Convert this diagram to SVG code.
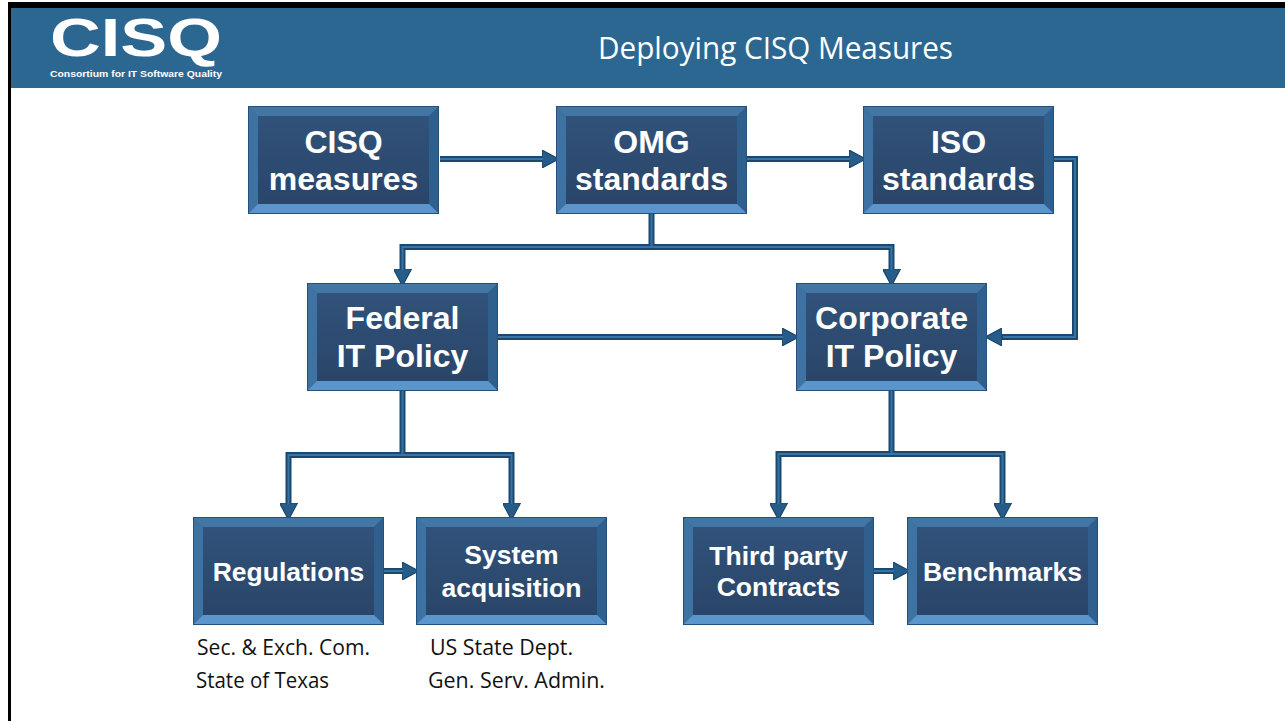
<svg xmlns="http://www.w3.org/2000/svg" xmlns:xlink="http://www.w3.org/1999/xlink" width="1285" height="721" viewBox="0 0 1285 721">
<style>
.bt{font-family:"Liberation Sans",Arial,sans-serif;font-weight:bold;fill:#ffffff;text-anchor:middle}
.big{font-size:32px}
.sm{font-size:26.5px}
.cap{font-family:"Open Sans","Noto Sans",sans-serif;font-size:21px;fill:#111111}
.co{fill:none;stroke:#1c4870;stroke-width:6;stroke-linejoin:miter}
.ci{fill:none;stroke:#3674a6;stroke-width:2}
.arr{marker-end:url(#ah)}
</style>
<defs>
<linearGradient id="face" x1="0" y1="0" x2="0" y2="1">
<stop offset="0" stop-color="#31527b"/>
<stop offset="1" stop-color="#2a4568"/>
</linearGradient>
<marker id="ah" markerUnits="userSpaceOnUse" markerWidth="18" markerHeight="18" refX="0" refY="8" orient="auto" viewBox="0 0 16 16">
<path d="M0,0 L15,8 L0,16 Z" fill="#255c8a" stroke="#1a4466" stroke-width="1"/>
</marker>
<g id="box">
<rect x="0" y="0" width="191" height="108" fill="#3a6c9a"/>
<polygon points="0,0 191,0 181,10 10,10" fill="#4276a4"/>
<polygon points="0,0 10,10 10,98 0,108" fill="#3e72a2"/>
<polygon points="191,0 191,108 181,98 181,10" fill="#2e5f8d"/>
<polygon points="0,108 10,98 181,98 191,108" fill="#5a96cc"/>
<rect x="10" y="10" width="171" height="88" fill="url(#face)"/>
<rect x="0.5" y="0.5" width="190" height="107" fill="none" stroke="#24507a" stroke-width="1"/>
</g>
</defs>
<rect x="0" y="0" width="1285" height="721" fill="#ffffff"/>
<g id="frame">
<rect x="8" y="2" width="1277" height="6" fill="#000000"/>
<rect x="8" y="2" width="3" height="719" fill="#000000"/>
<rect x="11" y="8" width="1274" height="80" fill="#2c6792"/>
<text x="50" y="56" font-family="'Liberation Sans',Arial,sans-serif" font-weight="bold" font-size="54" fill="#ffffff" textLength="172" lengthAdjust="spacingAndGlyphs">CISQ</text>
<text x="50" y="77" font-family="'Liberation Sans',Arial,sans-serif" font-weight="bold" font-size="9.5" fill="#ffffff" textLength="172" lengthAdjust="spacingAndGlyphs">Consortium for IT Software Quality</text>
<text x="775.5" y="59" font-family="'Open Sans','Noto Sans',sans-serif" font-size="31" fill="#ffffff" text-anchor="middle" textLength="355" lengthAdjust="spacingAndGlyphs">Deploying CISQ Measures</text>
</g>
<g id="connectors">
<path class="co arr" d="M440,159 H542"/>
<path class="co arr" d="M747,159 H849"/>
<path class="co arr" d="M1054,159 H1075 V337 H1002"/>
<path class="co arr" d="M651.5,214 V247 H402.5 V269"/>
<path class="co arr" d="M651.5,247 H891.5 V269"/>
<path class="co arr" d="M498,337 H782"/>
<path class="co arr" d="M402.5,391 V455 H288.5 V503"/>
<path class="co arr" d="M402.5,455 H511.5 V503"/>
<path class="co arr" d="M384,571 H402"/>
<path class="co arr" d="M891.5,391 V454 H778.5 V503"/>
<path class="co arr" d="M891.5,454 H1002.5 V503"/>
<path class="co arr" d="M874,571 H893"/>
<path class="ci" d="M440,159 H543"/>
<path class="ci" d="M747,159 H850"/>
<path class="ci" d="M1054,159 H1075 V337 H1003"/>
<path class="ci" d="M651.5,214 V247 H402.5 V270"/>
<path class="ci" d="M651.5,247 H891.5 V270"/>
<path class="ci" d="M498,337 H783"/>
<path class="ci" d="M402.5,391 V455 H288.5 V504"/>
<path class="ci" d="M402.5,455 H511.5 V504"/>
<path class="ci" d="M384,571 H403"/>
<path class="ci" d="M891.5,391 V454 H778.5 V504"/>
<path class="ci" d="M891.5,454 H1002.5 V504"/>
<path class="ci" d="M874,571 H894"/>
</g>
<g id="n-cisq">
<use xlink:href="#box" href="#box" x="248" y="106"/>
<text class="bt big" x="343.5" y="153">CISQ</text>
<text class="bt big" x="343.5" y="190">measures</text>
</g>
<g id="n-omg">
<use xlink:href="#box" href="#box" x="556" y="106"/>
<text class="bt big" x="651.5" y="153">OMG</text>
<text class="bt big" x="651.5" y="190">standards</text>
</g>
<g id="n-iso">
<use xlink:href="#box" href="#box" x="863" y="106"/>
<text class="bt big" x="958.5" y="153">ISO</text>
<text class="bt big" x="958.5" y="190">standards</text>
</g>
<g id="n-federal">
<use xlink:href="#box" href="#box" x="307" y="283"/>
<text class="bt big" x="402.5" y="329">Federal</text>
<text class="bt big" x="402.5" y="367">IT Policy</text>
</g>
<g id="n-corporate">
<use xlink:href="#box" href="#box" x="796" y="283"/>
<text class="bt big" x="891.5" y="329">Corporate</text>
<text class="bt big" x="891.5" y="367">IT Policy</text>
</g>
<g id="n-regulations">
<use xlink:href="#box" href="#box" x="193" y="517"/>
<text class="bt sm" x="288.5" y="581">Regulations</text>
</g>
<g id="n-system">
<use xlink:href="#box" href="#box" x="416" y="517"/>
<text class="bt sm" x="511.5" y="564">System</text>
<text class="bt sm" x="511.5" y="597">acquisition</text>
</g>
<g id="n-thirdparty">
<use xlink:href="#box" href="#box" x="683" y="517"/>
<text class="bt sm" x="778.5" y="565">Third party</text>
<text class="bt sm" x="778.5" y="596">Contracts</text>
</g>
<g id="n-benchmarks">
<use xlink:href="#box" href="#box" x="907" y="517"/>
<text class="bt sm" x="1002.5" y="581">Benchmarks</text>
</g>
<g id="captions">
<text class="cap" x="197" y="655" textLength="173" lengthAdjust="spacingAndGlyphs">Sec. &amp; Exch. Com.</text>
<text class="cap" x="196" y="688" textLength="133" lengthAdjust="spacingAndGlyphs">State of Texas</text>
<text class="cap" x="430" y="655" textLength="143" lengthAdjust="spacingAndGlyphs">US State Dept.</text>
<text class="cap" x="428" y="688" textLength="177" lengthAdjust="spacingAndGlyphs">Gen. Serv. Admin.</text>
</g>
</svg>
